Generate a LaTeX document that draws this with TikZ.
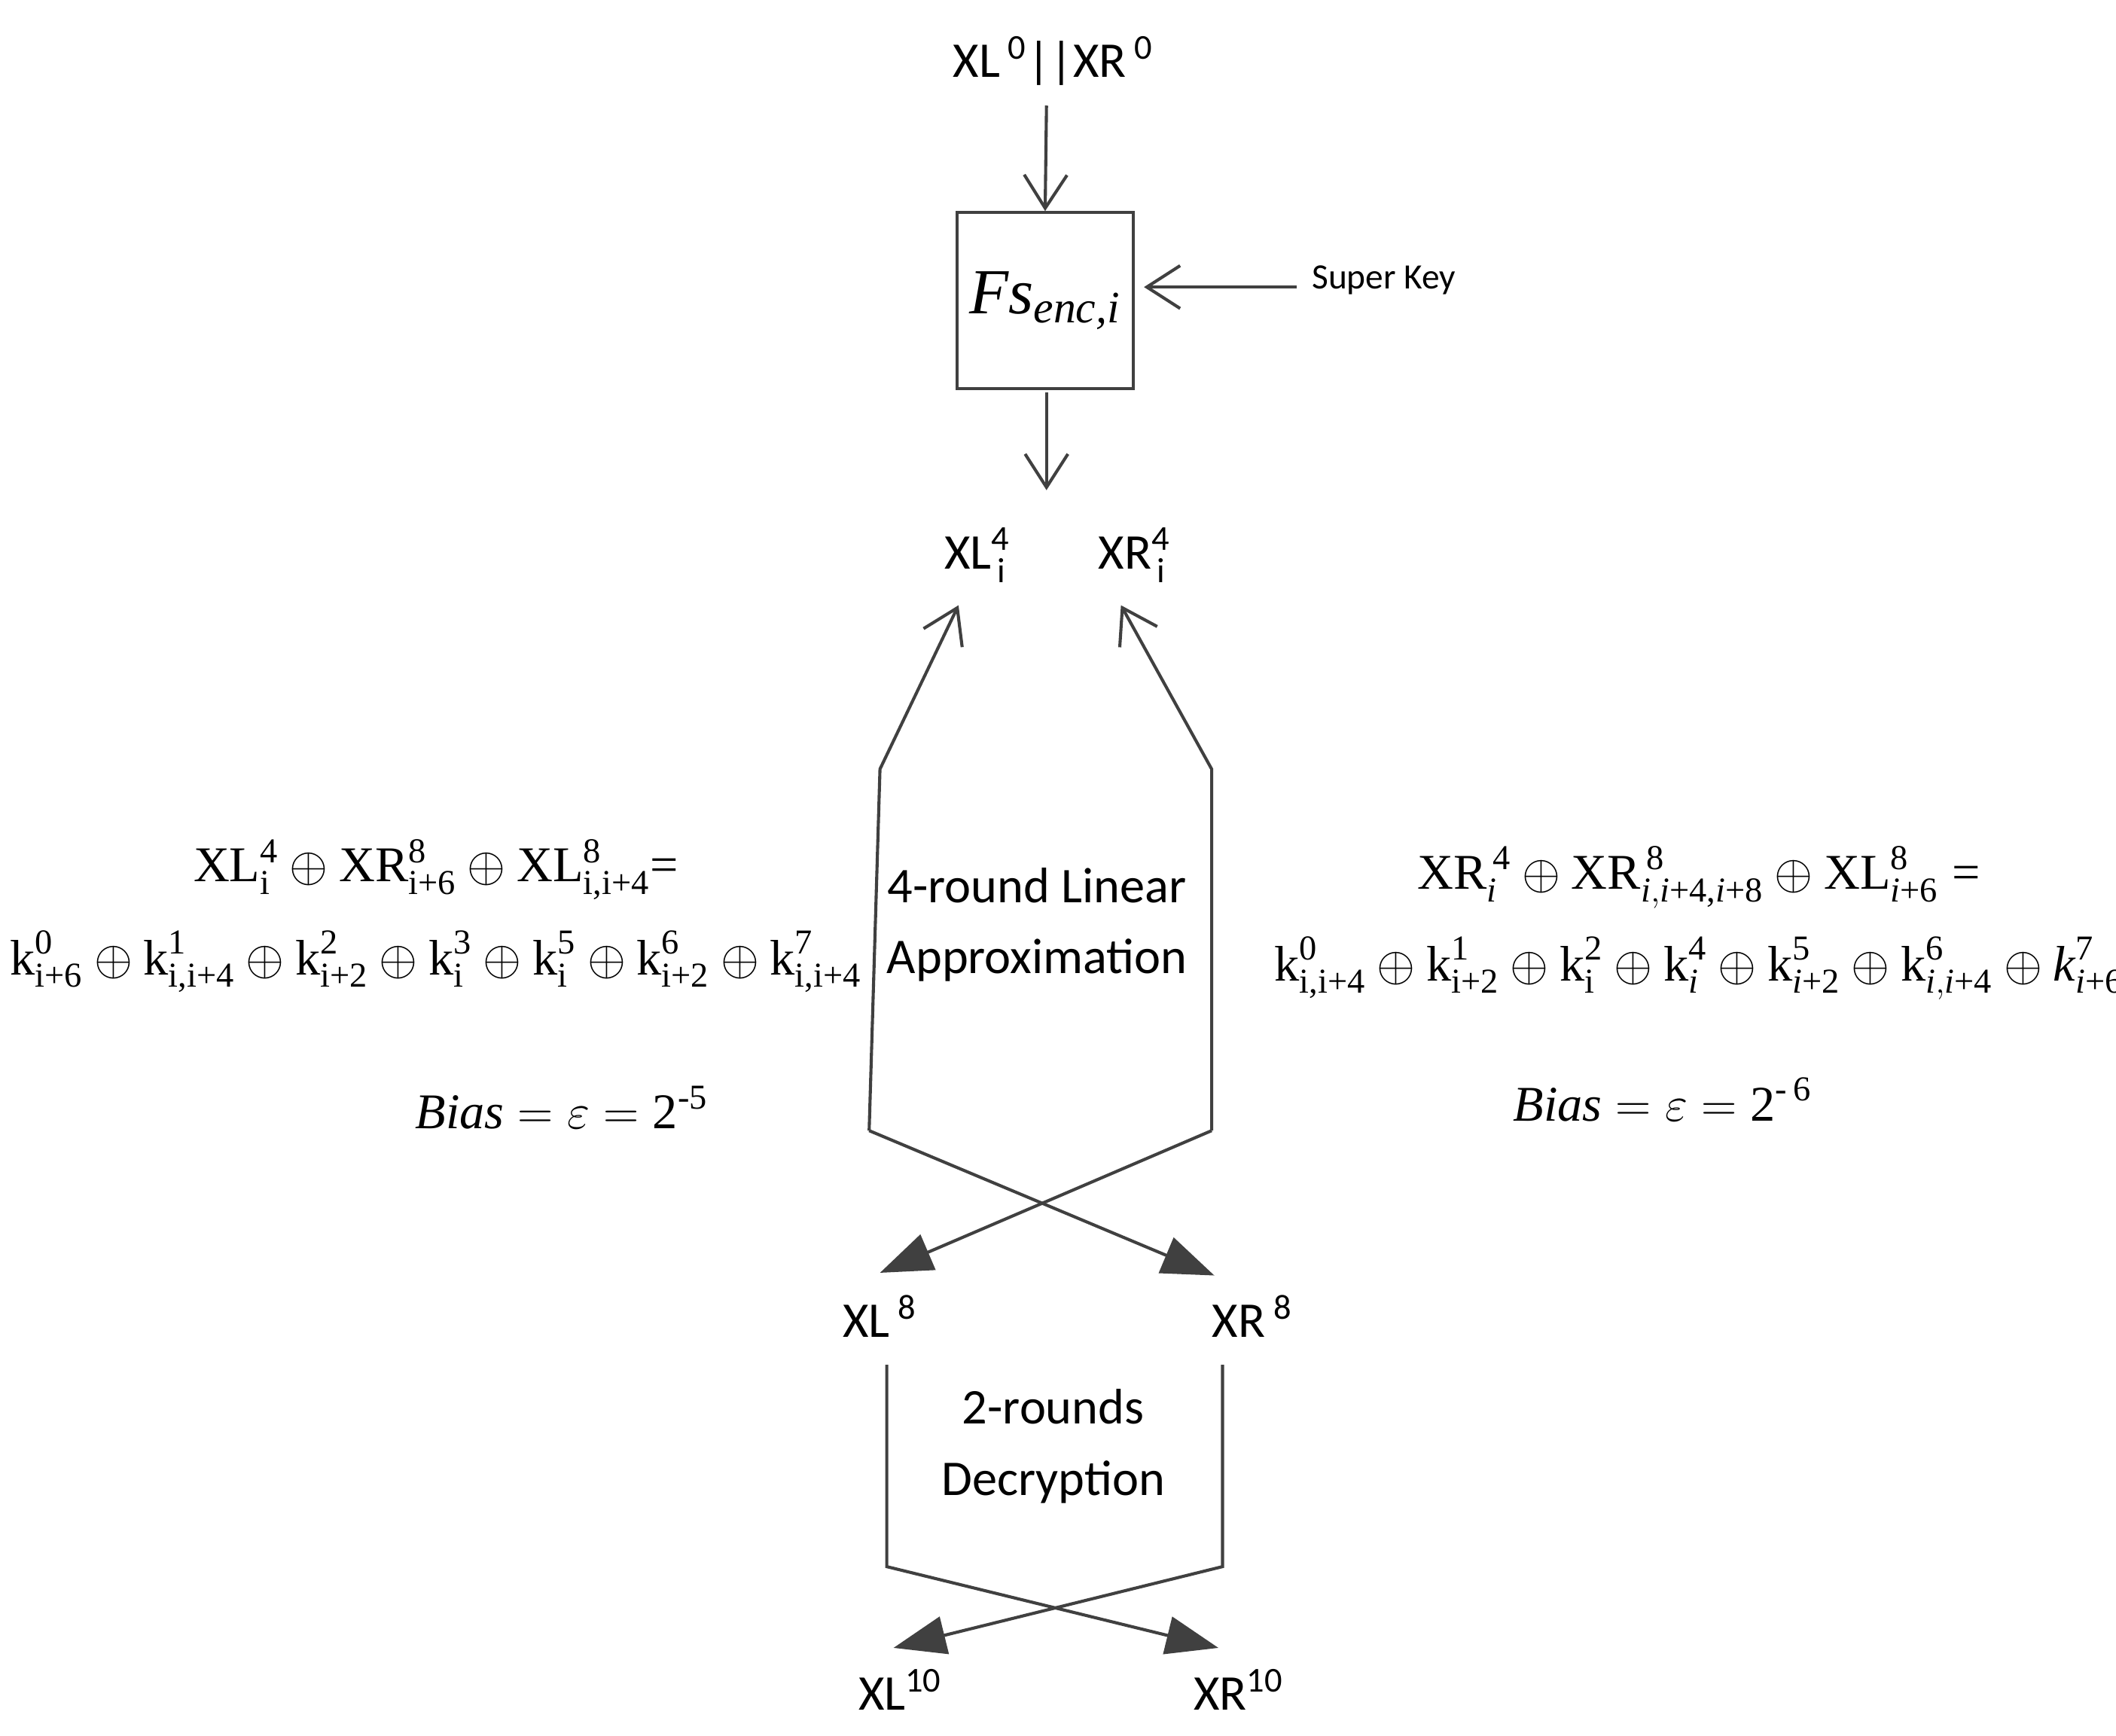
\documentclass[tikz,border=0pt]{standalone}
\usepackage{amsmath}
\usepackage{fontspec}
\setmainfont{Liberation Serif}
\newfontfamily\calfont{Carlito}
\usetikzlibrary{arrows.meta}
\newcommand{\tx}[1]{\text{#1}}
\newcommand{\ti}[1]{\text{\itshape #1}}
\newcommand{\op}{\mathbin{\oplus}}
\begin{document}
\begin{tikzpicture}[x=0.02cm,y=-0.02cm,line width=1.3pt,draw={black!75},
  lbl/.style={font=\calfont\fontsize{21}{25}\selectfont,inner sep=0},
  frm/.style={font=\fontsize{21}{25}\selectfont,inner sep=0},
  barb/.style={-{Straight Barb[length=14pt,width=18pt]}},
  tri/.style={-{Triangle[length=22pt,width=16pt]}}]
\useasboundingbox (0,0) rectangle (1563,1282);
\node[lbl] (top) at (778,45) {XL\,\textsuperscript{0}||XR\,\textsuperscript{0}};
\node[draw,minimum width=2.6cm,minimum height=2.6cm,inner sep=0] (box) at (772,222) {\fontsize{27}{30}\selectfont $\ti{Fs}_{\ti{enc,i}}$};
\node[lbl,font=\calfont\fontsize{15}{18}\selectfont,anchor=west] (sk) at (968,207) {Super Key};
\coordinate (skl) at (958,212);
\draw[barb] (773,78) -- (box.north);
\draw[barb] (skl) -- (845,212);
\coordinate (bx) at (773,290);
\draw[barb] (bx) -- (773,362);
\node[lbl] (xl4) at (722,410) {$\text{XL}^{\text{4}}_{\,\text{i}}$};
\node[lbl] (xr4) at (838,410) {$\text{XR}^{\text{4}}_{\,\text{i}}$};
\coordinate (la) at (642,835); \coordinate (lb) at (650,568);
\coordinate (ra) at (895,835); \coordinate (rb) at (895,568);
\draw[barb] (la) -- (lb) -- (708,447);
\draw[barb] (ra) -- (rb) -- (828,447);
\node[lbl] (xl8) at (650,972) {XL\,\textsuperscript{8}};
\node[lbl] (xr8) at (925,972) {XR\,\textsuperscript{8}};
\draw[tri] (la) -- (897,942);
\draw[tri] (ra) -- (650,940);
\node[lbl,align=center,font=\calfont\fontsize{21}{30}\selectfont] (t4) at (766,683) {4-round Linear\\Approximation};
\coordinate (lc) at (655,1008); \coordinate (ld) at (655,1157);
\coordinate (rc) at (903,1008); \coordinate (rd) at (903,1157);
\draw[tri] (lc) -- (ld) -- (900,1217);
\draw[tri] (rc) -- (rd) -- (660,1217);
\node[lbl,align=center,font=\calfont\fontsize{21}{30}\selectfont] (t2) at (778,1068) {2-rounds\\Decryption};
\node[lbl] (xl10) at (665,1248) {XL\textsuperscript{10}};
\node[lbl] (xr10) at (915,1248) {XR\textsuperscript{10}};
\node[frm] (f1) at (322,642) {$\tx{XL}^{\tx{4}}_{\tx{i}}\op\tx{XR}^{\tx{8}}_{\tx{i+6}}\op\tx{XL}^{\tx{8}}_{\tx{i,i+4}}\tx{=}$};
\node[frm] (f2) at (322,710) {$\tx{k}^{\tx{0}}_{\tx{i+6}}\op\tx{k}^{\tx{1}}_{\tx{i,i+4}}\op\tx{k}^{\tx{2}}_{\tx{i+2}}\op\tx{k}^{\tx{3}}_{\tx{i}}\op\tx{k}^{\tx{5}}_{\tx{i}}\op\tx{k}^{\tx{6}}_{\tx{i+2}}\op\tx{k}^{\tx{7}}_{\tx{i,i+4}}$};
\node[frm] (f3) at (415,818) {$\ti{Bias}=\varepsilon=\tx{2}^{\tx{-5}}$};
\node[frm] (g1) at (1255,648) {$\tx{XR}^{\,\tx{4}}_{\ti{i}}\op\tx{XR}^{\,\tx{8}}_{\ti{i},\ti{i}\tx{+4,}\ti{i}\tx{+8}}\op\tx{XL}^{\tx{8}}_{\ti{i}\tx{+6}}\;\tx{=}$};
\node[frm] (g2) at (1255,715) {$\tx{k}^{\tx{0}}_{\tx{i,i+4}}\op\tx{k}^{\tx{1}}_{\tx{i+2}}\op\tx{k}^{\tx{2}}_{\tx{i}}\op\tx{k}^{\tx{4}}_{\ti{i}}\op\tx{k}^{\tx{5}}_{\ti{i}\tx{+2}}\op\tx{k}^{\tx{6}}_{\ti{i},\ti{i}\tx{+4}}\op\ti{k}^{\tx{7}}_{\ti{i}\tx{+6}}$};
\node[frm] (g3) at (1228,812) {$\ti{Bias}=\varepsilon=\tx{2}^{\tx{-\,6}}$};
\end{tikzpicture}
\end{document}
